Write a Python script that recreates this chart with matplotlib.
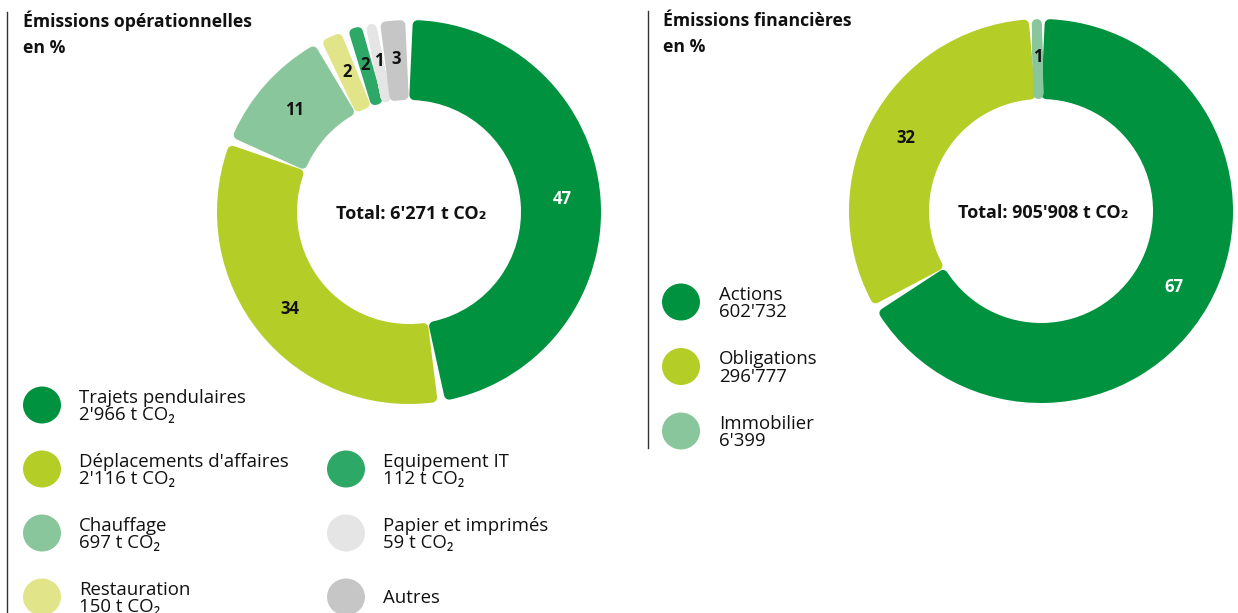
import math
import matplotlib
matplotlib.use("Agg")
import matplotlib.pyplot as plt
from matplotlib.patches import Ellipse

plt.rcParams['font.family'] = ['Open Sans', 'DejaVu Sans']

# ---------------- data ----------------
ops_categories = ["Trajets pendulaires", "Déplacements d'affaires", "Chauffage",
                  "Restauration", "Equipement IT", "Papier et imprimés", "Autres"]
ops_values = [2966, 2116, 697, 150, 112, 59, 171]          # t CO2 (Autres estimated)
ops_pct_labels = ["47", "34", "11", "2", "2", "1", "3"]
ops_value_labels = ["2'966 t CO₂", "2'116 t CO₂", "697 t CO₂", "150 t CO₂",
                    "112 t CO₂", "59 t CO₂", ""]
ops_colors = ["#00923F", "#B5CD27", "#8AC69B", "#E2E48A", "#2DA866", "#E5E5E5", "#C6C6C6"]
ops_total = "Total: 6'271 t CO₂"

fin_categories = ["Actions", "Obligations", "Immobilier"]
fin_values = [602732, 296777, 6399]
fin_pct_labels = ["67", "32", "1"]
fin_value_labels = ["602'732", "296'777", "6'399"]
fin_colors = ["#00923F", "#B5CD27", "#8AC69B"]
fin_total = "Total: 905'908 t CO₂"

# ---------------- layout (pixel space) ----------------
W, H = 1238, 613
DPI = 100
fig = plt.figure(figsize=(W / DPI, H / DPI), dpi=DPI)
ax = fig.add_axes([0, 0, 1, 1])


def Y(y):
    return H - y


R_OUT = 192
RING_W = 80
CORNER = 5
GAP = 4
INK = '#111111'


def donut(values, colors, pct_labels, center, total_text):
    it = iter(pct_labels)
    wedges, _, autotexts = ax.pie(
        values, colors=colors, startangle=90, counterclock=False,
        center=(center[0], Y(center[1])), radius=R_OUT,
        wedgeprops=dict(width=RING_W), autopct=lambda p: next(it),
        pctdistance=0.80,
        textprops=dict(fontsize=12, fontweight='bold', color=INK))
    r_mid = R_OUT - RING_W / 2
    d = math.degrees((GAP / 2 + CORNER) / r_mid)
    for w in wedges:
        t1, t2 = w.theta1, w.theta2
        if t2 - t1 > 2 * d:
            t1, t2 = t1 + d, t2 - d
        else:
            m = (t1 + t2) / 2
            t1, t2 = m - 0.01, m + 0.01
        w.set_theta1(t1)
        w.set_theta2(t2)
        w.set_radius(R_OUT - CORNER)
        w.set_width(RING_W - 2 * CORNER)
        w.set_edgecolor(w.get_facecolor())
        w.set_linewidth(2 * CORNER * 72 / DPI)
        w.set_joinstyle('round')
    autotexts[0].set_color('white')
    ax.text(center[0] + 2, Y(center[1] + 2), total_text, ha='center', va='center',
            fontsize=13, fontweight='bold', color=INK)


donut(ops_values, ops_colors, ops_pct_labels, (409, 212), ops_total)
donut(fin_values, fin_colors, fin_pct_labels, (1041, 211), fin_total)

ax.set_xlim(0, W)
ax.set_ylim(0, H)
ax.set_aspect('auto')
ax.axis('off')

# titles
TITLE_FS = 12.7
ax.text(23, Y(27), "Émissions opérationnelles", fontsize=TITLE_FS, fontweight='bold',
        ha='left', va='baseline', color=INK)
ax.text(23, Y(53), "en %", fontsize=TITLE_FS, fontweight='bold', ha='left', va='baseline',
        color=INK)
ax.text(663, Y(26), "Émissions financières", fontsize=TITLE_FS, fontweight='bold',
        ha='left', va='baseline', color=INK)
ax.text(663, Y(52), "en %", fontsize=TITLE_FS, fontweight='bold', ha='left', va='baseline',
        color=INK)

# separator lines
ax.plot([7, 7], [Y(12), Y(613)], color='#333333', lw=1)
ax.plot([648, 648], [Y(11), Y(448)], color='#333333', lw=1)

# legends
LEG_FS = 13.4
CIRC_D = 38


def legend_item(cx, cy, tx, color, name, value):
    ax.add_patch(Ellipse((cx, Y(cy)), CIRC_D, CIRC_D - 1, facecolor=color, edgecolor='none'))
    if value:
        ax.text(tx, Y(cy - 2), name, fontsize=LEG_FS, ha='left', va='baseline', color=INK)
        ax.text(tx, Y(cy + 15), value, fontsize=LEG_FS, ha='left', va='baseline', color=INK)
    else:
        ax.text(tx, Y(cy + 6), name, fontsize=LEG_FS, ha='left', va='baseline', color=INK)


ROW0, ROW_STEP = 405, 64
ops_slots = [(0, 0), (0, 1), (0, 2), (0, 3), (1, 1), (1, 2), (1, 3)]
col_x = [(42, 79), (346, 383)]
for (col, row), name, val, col_c in zip(ops_slots, ops_categories, ops_value_labels, ops_colors):
    cx, tx = col_x[col]
    legend_item(cx, ROW0 + row * ROW_STEP, tx, col_c, name, val)

FROW0, FROW_STEP = 302, 64.5
for i, (name, val, col_c) in enumerate(zip(fin_categories, fin_value_labels, fin_colors)):
    legend_item(681, FROW0 + i * FROW_STEP, 719, col_c, name, val)

fig.savefig("out.png", dpi=DPI)
